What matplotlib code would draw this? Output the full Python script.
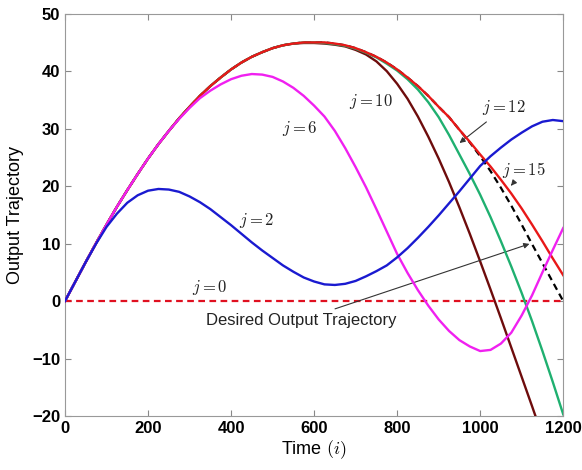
import matplotlib
matplotlib.use("Agg")
import matplotlib.pyplot as plt

plt.rcParams['mathtext.fontset'] = 'cm'

# time samples (every 25 steps)
t = list(range(0, 1201, 25))

desired = [0, 3.4, 6.8, 10.1, 13.3, 16.4, 19.3, 22.1, 24.8, 27.3, 29.6, 31.8, 33.8,
           35.7, 37.4, 38.9, 40.3, 41.5, 42.5, 43.3, 44.0, 44.5, 44.8, 45.0, 45.0,
           45.0, 44.8, 44.5, 44.0, 43.3, 42.5, 41.5, 40.3, 38.9, 37.4, 35.7, 33.8,
           32.0, 29.8, 27.6, 25.2, 22.6, 19.7, 16.6, 13.3, 9.9, 6.6, 3.3, 0]
y_j15 = [0, 3.4, 6.8, 10.1, 13.3, 16.4, 19.3, 22.1, 24.8, 27.3, 29.6, 31.8, 33.8,
         35.7, 37.4, 38.9, 40.3, 41.5, 42.5, 43.3, 44.0, 44.5, 44.8, 45.0, 45.0,
         45.0, 44.8, 44.5, 44.0, 43.3, 42.5, 41.5, 40.3, 38.9, 37.4, 35.7, 33.8,
         32.0, 29.8, 27.7, 25.5, 23.4, 21.1, 18.7, 16.1, 13.3, 10.4, 7.4, 4.5]
y_j12 = [0, 3.4, 6.8, 10.1, 13.3, 16.4, 19.3, 22.1, 24.8, 27.3, 29.6, 31.8, 33.8,
         35.7, 37.4, 38.9, 40.3, 41.5, 42.5, 43.3, 44.0, 44.5, 44.8, 45.0, 45.0,
         44.9, 44.7, 44.4, 43.9, 43.2, 42.4, 41.3, 40.1, 38.6, 36.8, 34.6, 32.0,
         28.9, 25.5, 22.1, 18.5, 14.6, 10.4, 6.0, 1.4, -3.5, -8.7, -14.1, -19.7]
y_j10 = [0, 3.4, 6.8, 10.1, 13.3, 16.4, 19.3, 22.1, 24.8, 27.3, 29.6, 31.8, 33.8,
         35.7, 37.4, 38.9, 40.3, 41.5, 42.5, 43.3, 44.0, 44.5, 44.8, 44.9, 44.9,
         44.8, 44.6, 44.3, 43.7, 42.9, 41.7, 40.0, 37.8, 35.2, 32.1, 28.6, 24.8,
         20.7, 16.3, 11.7, 6.9, 2.0, -3.0, -8.1, -13.2, -18.3, -23.5, -28.8, -34.0]
y_j6 = [0, 3.4, 6.8, 10.1, 13.3, 16.4, 19.3, 22.1, 24.8, 27.3, 29.6, 31.7, 33.6,
        35.3, 36.6, 37.7, 38.6, 39.2, 39.5, 39.4, 39.0, 38.2, 37.1, 35.7, 34.0,
        32.1, 29.6, 26.6, 23.3, 19.8, 16.0, 12.1, 8.2, 4.9, 1.9, -0.8, -3.2,
        -5.2, -6.8, -7.9, -8.7, -8.5, -7.4, -5.5, -2.5, 1.0, 5.0, 8.9, 12.7]
y_j2 = [0, 3.4, 6.8, 10.0, 12.9, 15.2, 17.1, 18.4, 19.2, 19.5, 19.4, 19.0, 18.2,
        17.2, 16.0, 14.6, 13.2, 11.7, 10.2, 8.8, 7.5, 6.2, 5.1, 4.1, 3.4,
        2.9, 2.8, 3.0, 3.5, 4.3, 5.2, 6.2, 7.6, 9.2, 11.0, 12.9, 14.9,
        17.0, 19.1, 21.3, 23.5, 25.2, 26.7, 28.1, 29.3, 30.4, 31.2, 31.5, 31.3]
y_j0 = [0] * len(t)

fig = plt.figure(figsize=(5.82, 4.70), dpi=100)
ax = fig.add_axes([0.1117, 0.1149, 0.856, 0.856])

# stacking: desired under everything, then j=10, j=12, j=15, j=6, j=2 on top
ax.plot(t, desired, color='black', lw=1.6, ls=(0, (3, 2)), zorder=2)
ax.plot(t, y_j10, color='#6e0c0c', lw=1.7, zorder=3)
ax.plot(t, y_j12, color='#1fb070', lw=1.7, zorder=4)
ax.plot(t, y_j15, color='#e81818', lw=1.7, zorder=5)
ax.plot(t, y_j6, color='#f020f0', lw=1.7, zorder=6)
ax.plot(t, y_j2, color='#1a1ad0', lw=1.7, zorder=7)
ax.plot(t, y_j0, color='#e01020', lw=1.6, ls=(0, (3, 2)), zorder=3)

ax.set_xlim(0, 1200)
ax.set_ylim(-20, 50)
ax.set_xticks([0, 200, 400, 600, 800, 1000, 1200])
ax.set_yticks([-20, -10, 0, 10, 20, 30, 40, 50])
ax.tick_params(direction='in', top=True, right=True, length=4, color='#888888')
for lab in ax.get_xticklabels() + ax.get_yticklabels():
    lab.set_fontweight('bold')
    lab.set_fontsize(12)
    lab.set_family('Liberation Sans')
for s in ax.spines.values():
    s.set_color('#999999')

ax.set_xlabel('Time $(i)$', fontsize=13, family='Liberation Sans', labelpad=2)
ax.set_ylabel('Output Trajectory', fontsize=13, family='Liberation Sans', labelpad=6)

lab_kw = dict(fontsize=12, ha='center', va='center', color='#222222')
ax.text(349, 2.3, '$j=0$', **lab_kw)
ax.text(462, 14.1, '$j=2$', **lab_kw)
ax.text(565, 30.1, '$j=6$', **lab_kw)
ax.text(738, 34.8, '$j=10$', **lab_kw)

arr = dict(arrowstyle='-|>', color='#333333', lw=0.8, mutation_scale=8)
ax.annotate('$j=12$', xy=(945, 27.2), xytext=(1058, 33.6), fontsize=12,
            ha='center', va='center', color='#222222', arrowprops=arr)
ax.annotate('$j=15$', xy=(1070, 19.7), xytext=(1106, 22.8), fontsize=12,
            ha='center', va='center', color='#222222', arrowprops=arr)
ax.annotate('Desired Output Trajectory', xy=(1125, 10.1), xytext=(570, -3.3),
            fontsize=12, family='Liberation Sans', ha='center', va='center',
            color='#222222', arrowprops=arr)

fig.savefig('out.png', dpi=100)
